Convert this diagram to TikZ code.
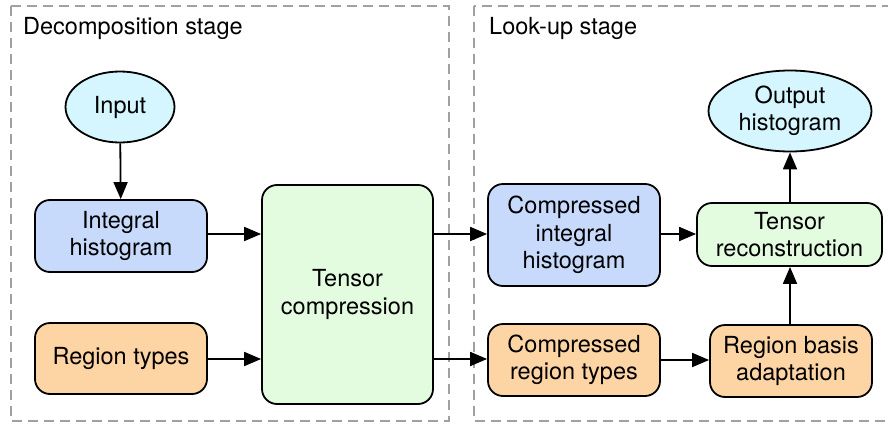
\documentclass[tikz,border=0pt]{standalone}
\usepackage{fontspec}
\setmainfont{TeX Gyre Heros}
\usetikzlibrary{arrows.meta, shapes.geometric}
\definecolor{boxblue}{RGB}{199,218,252}
\definecolor{boxorange}{RGB}{253,212,164}
\definecolor{boxgreen}{RGB}{227,252,224}
\definecolor{boxcyan}{RGB}{213,246,255}
\definecolor{framegray}{RGB}{160,160,160}
\tikzset{
  base/.style={draw=black, line width=1.8pt, align=center, inner sep=0pt,
    font=\fontsize{23.5}{27.5}\selectfont},
  rbox/.style={base, rounded corners=15pt},
  oval/.style={base, ellipse, fill=boxcyan},
  stage/.style={draw=framegray, line width=1.3pt, dash pattern=on 10pt off 6pt},
  stagetitle/.style={anchor=west, inner sep=0pt, font=\fontsize{23.5}{27.5}\selectfont},
  flow/.style={line width=1.8pt, -{Triangle[length=17pt, width=14pt]}},
}
\begin{document}
\begin{tikzpicture}[x=1pt, y=-1pt]
\useasboundingbox (0,0) rectangle (888,423);
\begin{scope}
\clip (0,0) rectangle (888,423);
% stage frames
\draw[stage] (11,6) rectangle (449,421);
\draw[stage] (474,6) rectangle (900,421);
\end{scope}
\node[stagetitle] (t1) at (23,28) {Decomposition stage};
\node[stagetitle] (t2) at (489,28) {Look-up stage};

% decomposition stage
\node[oval, minimum width=109pt, minimum height=71pt] (in) at (120,107) {Input};
\node[rbox, fill=boxblue, minimum width=172pt, minimum height=72pt] (ih) at (121,236) {Integral\\histogram};
\node[rbox, fill=boxorange, minimum width=172pt, minimum height=71pt] (rt) at (121,358.5) {Region types};
\node[rbox, fill=boxgreen, minimum width=171pt, minimum height=219pt] (tc) at (347.5,294.5) {Tensor\\compression};

% look-up stage
\node[rbox, fill=boxblue, minimum width=172pt, minimum height=102pt] (cih) at (574,235) {Compressed\\integral\\histogram};
\node[rbox, fill=boxorange, minimum width=172pt, minimum height=72pt] (crt) at (574,360) {Compressed\\region types};
\node[rbox, fill=boxgreen, minimum width=185pt, minimum height=63pt] (tr) at (789.5,234.5) {Tensor\\reconstruction};
\node[rbox, fill=boxorange, minimum width=162pt, minimum height=72pt] (rba) at (791,361) {Region basis\\adaptation};
\node[oval, minimum width=163pt, minimum height=81pt] (out) at (790,111) {Output\\histogram};

% connectors
\draw[flow] (in) -- (ih);
\draw[flow] (ih.east |- 0,234) -- (tc.west |- 0,234);
\draw[flow] (rt.east |- 0,359) -- (tc.west |- 0,359);
\draw[flow] (tc.east |- 0,234) -- (cih.west |- 0,234);
\draw[flow] (tc.east |- 0,359) -- (crt.west |- 0,359);
\draw[flow] (cih.east |- 0,234) -- (tr.west |- 0,234);
\draw[flow] (crt.east |- 0,360) -- (rba.west |- 0,360);
\draw[flow] (rba.north -| 790,0) -- (tr.south -| 790,0);
\draw[flow] (tr.north -| 790,0) -- (out.south);
\end{tikzpicture}
\end{document}
